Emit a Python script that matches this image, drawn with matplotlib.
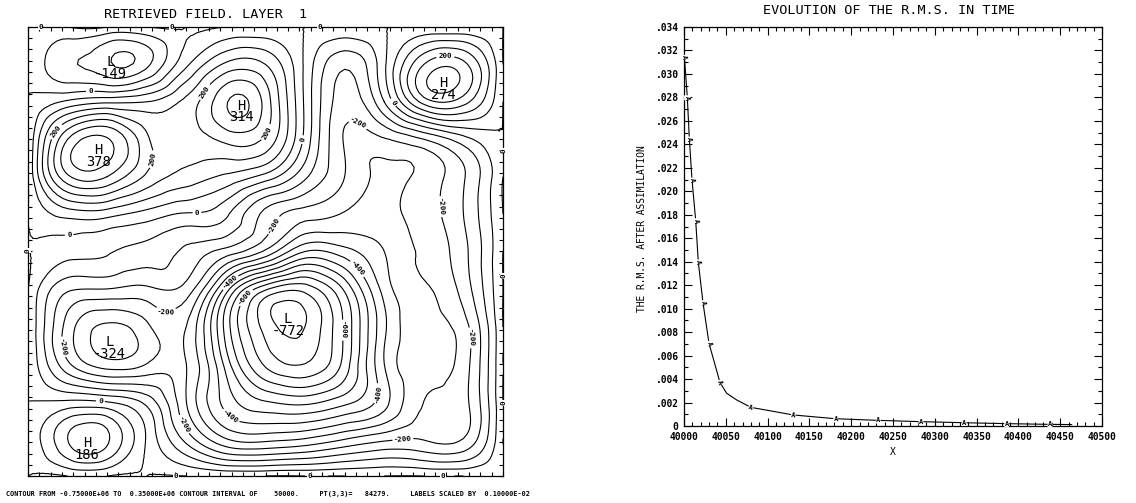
import numpy as np
import matplotlib
matplotlib.use("Agg")
import matplotlib.pyplot as plt
import matplotlib.tri as mtri
from matplotlib.ticker import MultipleLocator

MONO = "DejaVu Sans Mono"

# ---------------- left panel: retrieved field (label units) ----------------
# grid of the original field is 43 x 41 points (one tick per grid point)
field_cols = np.linspace(1, 43, 13)
field_rows = np.linspace(41, 1, 13)          # first row is the top row
field_values = [
    [0, 0, 0, 0, 0, 0, 0, 0, 0, 0, 0, 0, 0],
    [0, -92, -138, -112, 40, 160, 150, -10, -140, -10, 200, 215, 0],
    [0, 60, 90, 100, 165, 295, 230, -10, -175, -50, 170, 170, 0],
    [0, 300, 355, 210, 170, 215, 190, -15, -205, -205, -150, -70, 0],
    [0, 290, 300, 190, 130, 90, 30, -90, -200, -260, -235, -155, 0],
    [0, 70, 70, 30, -5, -40, -165, -225, -255, -265, -225, -150, 0],
    [0, -30, -45, -70, -110, -170, -260, -400, -370, -300, -240, -165, 0],
    [0, -140, -150, -160, -170, -420, -640, -680, -540, -330, -255, -180, 0],
    [0, -220, -310, -260, -250, -520, -720, -750, -590, -360, -270, -220, 0],
    [0, -190, -280, -250, -250, -470, -660, -700, -580, -350, -270, -225, 0],
    [0, 5, -5, -70, -250, -420, -500, -520, -470, -370, -250, -215, 0],
    [0, 150, 160, -5, -170, -300, -320, -300, -255, -215, -205, -200, 0],
    [0, 0, 0, 0, 0, 0, 0, 0, 0, 0, 0, 0, 0],
]
extrema_x = [8.3, 19.9, 37.7, 7.2, 24.0, 8.2, 6.2]
extrema_y = [37.9, 34.0, 36.0, 30.0, 15.0, 12.9, 3.9]
extrema_kind = ["L", "H", "H", "H", "L", "L", "H"]
extrema_value = [-149, 314, 274, 378, -772, -324, 186]

contour_levels = np.arange(-750, 351, 50)
labelled_levels = [-600, -400, -200, 0, 200]
label_x = [6.5, 15.9, 4.7, 7.4, 24.6, 33.3,
           3.6, 12.1, 16.5, 22.1, 37.9,
           29.9, 23.0, 13.1, 4.1, 14.6, 34.1, 36.5, 40.1,
           19.1, 30.5, 31.1, 18.9, 20.9, 28.8]
label_y = [35.4, 24.9, 21.9, 7.6, 31.1, 34.3,
           31.6, 29.2, 35.3, 31.6, 38.1,
           31.8, 23.2, 15.3, 12.5, 5.5, 4.7, 24.9, 13.3,
           18.0, 19.8, 8.4, 6.3, 16.4, 14.0]
edge_zero_x = [2.1, 13.7, 26.8, 14.1, 25.9, 37.7, 43, 43, 43, 1]
edge_zero_y = [41, 41, 41, 1, 1, 1, 30.0, 18.8, 7.5, 21.1]
edge_zero_rot = [0, 0, 0, 0, 0, 0, 90, 90, 90, 90]

footer = ("CONTOUR FROM -0.75000E+06 TO  0.35000E+06 CONTOUR INTERVAL OF"
          "    50000.     PT(3,3)=   84279.     LABELS SCALED BY  0.10000E-02")

# ---------------- right panel: r.m.s. evolution ----------------
rms_time = [40000.5, 40004, 40006.4, 40009.6, 40014, 40017.1, 40022.7, 40029.9,
            40043, 40051, 40063, 40080, 40130.8, 40181.4, 40232.4, 40283.5,
            40335, 40386, 40437.8, 40463.7]
rms_value = [0.03142, 0.02798, 0.02446, 0.02096, 0.01750, 0.01398, 0.01051,
             0.00705, 0.00372, 0.00279, 0.00222, 0.00159, 0.00094, 0.00062,
             0.00048, 0.00037, 0.00028, 0.00020, 0.00014, 0.00012]
rms_marked = [0, 1, 2, 3, 4, 5, 6, 7, 8, 11, 12, 13, 14, 15, 16, 17, 18]
x_ticks = [40000, 40050, 40100, 40150, 40200, 40250, 40300, 40350, 40400, 40450, 40500]
y_ticks = [0, .002, .004, .006, .008, .010, .012, .014, .016, .018,
           .020, .022, .024, .026, .028, .030, .032, .034]
y_tick_labels = ["0", ".002", ".004", ".006", ".008", ".010", ".012", ".014", ".016",
                 ".018", ".020", ".022", ".024", ".026", ".028", ".030", ".032", ".034"]

fig = plt.figure(figsize=(11.36, 5.03), dpi=100)

# ---- contour map ----
ax1 = fig.add_axes([28 / 1136, 1 - 476 / 503, 475 / 1136, 449 / 503])
gx, gy = np.meshgrid(field_cols, field_rows)
px = np.concatenate([gx.ravel(), extrema_x])
py = np.concatenate([gy.ravel(), extrema_y])
pz = np.concatenate([np.asarray(field_values, float).ravel(), extrema_value])
tri = mtri.Triangulation(px, py)
interp = mtri.CubicTriInterpolator(tri, pz, kind="min_E")
tri_f, z_f = mtri.UniformTriRefiner(tri).refine_field(pz, triinterpolator=interp, subdiv=3)

plain_levels = [v for v in contour_levels if v not in labelled_levels]
ax1.tricontour(tri_f, z_f, levels=plain_levels, colors="black", linewidths=0.8,
               negative_linestyles="solid")
cs = ax1.tricontour(tri_f, z_f, levels=labelled_levels, colors="black", linewidths=0.8,
                    negative_linestyles="solid")
labels = ax1.clabel(cs, manual=list(zip(label_x, label_y)),
                    inline=True, inline_spacing=2, fontsize=5.4,
                    fmt=lambda v: "%d" % int(round(v)))
for t in labels:
    t.set_fontfamily(MONO)
    t.set_fontweight("bold")

for x, y, r in zip(edge_zero_x, edge_zero_y, edge_zero_rot):
    ax1.text(x, y, "0", rotation=r, ha="center", va="center", fontsize=5.4,
             family=MONO, weight="bold", zorder=5, clip_on=False,
             bbox=dict(fc="white", ec="none", pad=0.3))

for x, y, k, v in zip(extrema_x, extrema_y, extrema_kind, extrema_value):
    ax1.text(x, y, k, ha="center", va="center", fontsize=9.9, family=MONO)
    ax1.annotate("%d" % v, (x, y), xytext=(0, -8.5), textcoords="offset points",
                 ha="center", va="center", fontsize=9.9, family=MONO)

ax1.set_xlim(1, 43)
ax1.set_ylim(1, 41)
ax1.xaxis.set_major_locator(MultipleLocator(1))
ax1.yaxis.set_major_locator(MultipleLocator(1))
ax1.tick_params(which="both", direction="in", length=3, width=0.8,
                top=True, right=True, labelbottom=False, labelleft=False)
for s in ax1.spines.values():
    s.set_linewidth(0.9)

fig.text(104 / 1136, 1 - 14 / 503, "RETRIEVED FIELD. LAYER  1", ha="left", va="center",
         fontsize=9.7, family=MONO)
fig.text(6 / 1136, 1 - 494 / 503, footer, ha="left", va="center",
         fontsize=4.9, family=MONO, weight="bold")

# ---- r.m.s. curve ----
ax2 = fig.add_axes([684 / 1136, 1 - 426 / 503, 418 / 1136, 399 / 503])
ax2.plot(rms_time, rms_value, color="black", linewidth=0.8)
ax2.set_xlim(40000, 40500)
ax2.set_ylim(0, 0.034)
ax2.set_xticks(x_ticks, [str(v) for v in x_ticks])
ax2.set_yticks(y_ticks, y_tick_labels)
ax2.xaxis.set_minor_locator(MultipleLocator(10))
ax2.yaxis.set_minor_locator(MultipleLocator(0.001))
ax2.tick_params(which="major", direction="in", length=5.8, width=0.8,
                top=True, right=True, pad=4)
ax2.tick_params(which="minor", direction="in", length=2.9, width=0.8,
                top=True, right=True)
for t in ax2.get_xticklabels() + ax2.get_yticklabels():
    t.set_fontfamily(MONO)
    t.set_fontweight("bold")
    t.set_fontsize(6.9)
for s in ax2.spines.values():
    s.set_linewidth(0.9)

disp = ax2.transData.transform(np.column_stack([rms_time, rms_value]))
for i in rms_marked:
    a = disp[max(i - 1, 0)]
    b = disp[min(i + 1, len(disp) - 1)]
    ang = np.degrees(np.arctan2(b[1] - a[1], b[0] - a[0]))
    ax2.text(rms_time[i], rms_value[i], "A", rotation=ang, rotation_mode="anchor",
             ha="center", va="center", fontsize=5, family=MONO, weight="bold",
             bbox=dict(fc="white", ec="none", pad=0.2), clip_on=False)

fig.text(889 / 1136, 1 - 11 / 503, "EVOLUTION OF THE R.M.S. IN TIME", ha="center",
         va="center", fontsize=9.7, family=MONO)
fig.text(642 / 1136, 1 - 229 / 503, "THE R.M.S. AFTER ASSIMILATION", rotation=90,
         ha="center", va="center", fontsize=6.9, family=MONO)
fig.text(893 / 1136, 1 - 452 / 503, "X", ha="center", va="center",
         fontsize=6.9, family=MONO)

fig.savefig("out.png", dpi=100)
